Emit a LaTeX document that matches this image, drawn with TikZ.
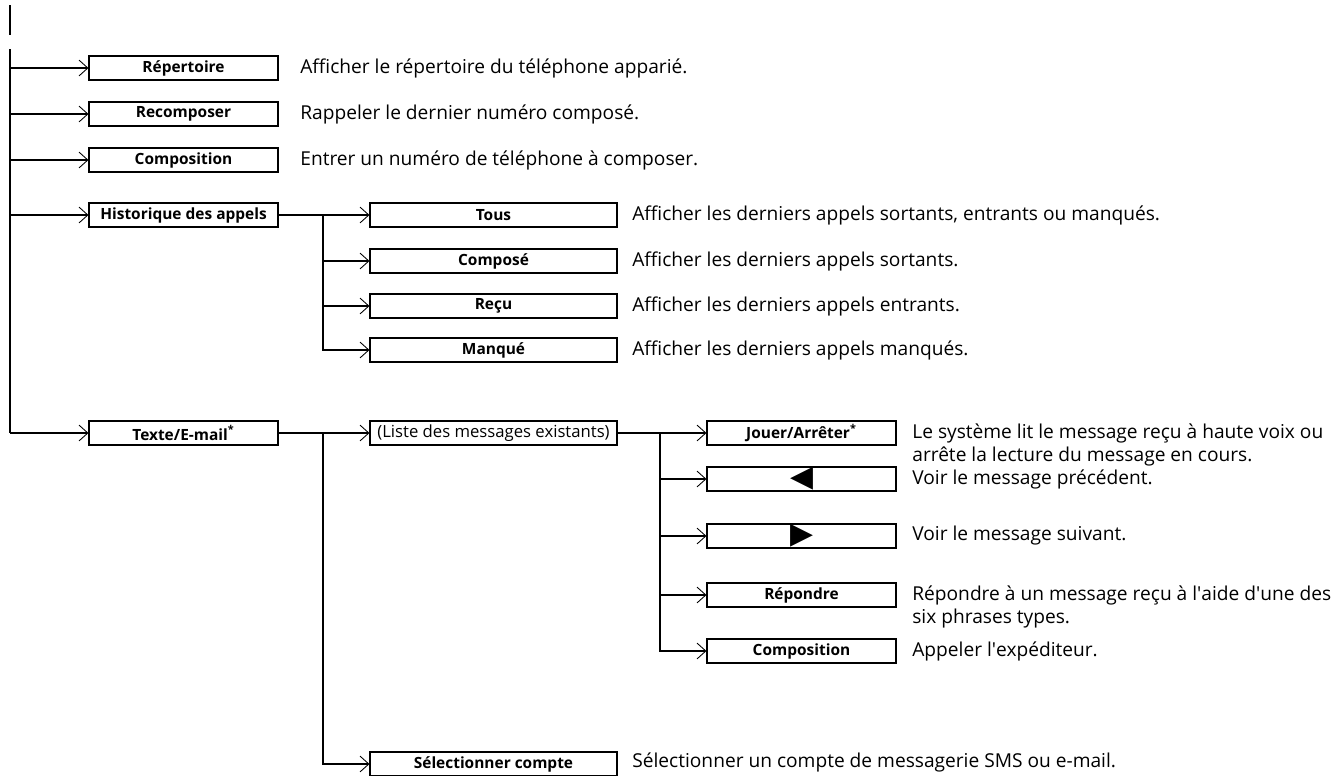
\documentclass[tikz,border=0pt]{standalone}
\usepackage{fontspec}
\setmainfont{Open Sans}
\setsansfont{Open Sans}
\newfontfamily\symfont{DejaVu Sans}
\usetikzlibrary{arrows.meta, positioning}

\begin{document}
\begin{tikzpicture}[
  x=0.02cm, y=-0.02cm,
  menu/.style={draw, line width=0.6pt, minimum width=189*0.02cm, minimum height=0.48cm,
               inner sep=0pt, font=\fontsize{8.8}{10}\selectfont\bfseries},
  menuwide/.style={menu, minimum width=247*0.02cm},
  desc/.style={anchor=west, inner sep=0pt, align=left,
               font=\fontsize{10.9}{13.6}\selectfont},
  line/.style={line width=1.1pt},
  arr/.style={line, -{Straight Barb[length=5pt, width=9pt, line width=0.5pt]}}
]
\useasboundingbox (0,0) rectangle (1342,775);

%
%  Layout (pixels, y down):
%
%  col 1 : boxes 89..278     texts at 300
%  col 2 : boxes 370..617    texts at 632
%  col 3 : boxes 707..896    texts at 912
%

% --- trunk ---
\coordinate (bartop) at (10,5);
\coordinate (barbot) at (10,35);
\coordinate (root)   at (10,49);
\draw[line] (bartop) -- (barbot);

% --- first level ---
\node[menu] (rep)  at (183.5,68)  {Répertoire};
\node[menu] (rec)  at (183.5,114) {Recomposer};
\node[menu] (comp) at (183.5,160) {Composition};
\node[menu] (hist) at (183.5,215) {Historique des appels};
\node[menu] (txt)  at (183.5,433) {Texte/E-mail\textsuperscript{*}};

\node[desc] (rep_d)  at (300,68)  {Afficher le répertoire du téléphone apparié.};
\node[desc] (rec_d)  at (300,114) {Rappeler le dernier numéro composé.};
\node[desc] (comp_d) at (300,160) {Entrer un numéro de téléphone à composer.};

% --- call history ---
\coordinate (hjoin) at (323,215);
\node[menuwide] (tous) at (493.5,215) {Tous};
\node[menuwide] (cmpo) at (493.5,261) {Composé};
\node[menuwide] (recu) at (493.5,306) {Reçu};
\node[menuwide] (manq) at (493.5,350) {Manqué};

\node[desc] (tous_d) at (632,215) {Afficher les derniers appels sortants, entrants ou manqués.};
\node[desc] (cmpo_d) at (632,261) {Afficher les derniers appels sortants.};
\node[desc] (recu_d) at (632,306) {Afficher les derniers appels entrants.};
\node[desc] (manq_d) at (632,350) {Afficher les derniers appels manqués.};

% --- text / e-mail ---
\coordinate (tjoin) at (323,433);
\node[menuwide, font=\fontsize{9.5}{10}\selectfont] (list) at (493.5,433) {(Liste des messages existants)};
\node[menuwide] (sel) at (493.5,764) {Sélectionner compte};
\node[desc] (sel_d) at (632,762) {Sélectionner un compte de messagerie SMS ou e-mail.};

% --- message list ---
\coordinate (ljoin) at (660,433);
\node[menu] (play) at (801.5,433) {Jouer/Arrêter\textsuperscript{*}};
\node[menu] (prev) at (801.5,479) {\symfont\fontsize{17}{17}\selectfont ◀};
\node[menu] (next) at (801.5,536) {\symfont\fontsize{17}{17}\selectfont ▶};
\node[menu] (repl) at (801.5,595) {Répondre};
\node[menu] (call) at (801.5,651) {Composition};

\node[desc] (play_d) at (912,445) {Le système lit le message reçu à haute voix ou\\arrête la lecture du message en cours.};
\node[desc] (prev_d) at (912,479) {Voir le message précédent.};
\node[desc] (next_d) at (912,536) {Voir le message suivant.};
\node[desc] (repl_d) at (912,607) {Répondre à un message reçu à l\textquotesingle aide d\textquotesingle une des\\six phrases types.};
\node[desc] (call_d) at (912,651) {Appeler l\textquotesingle expéditeur.};

% ---- Connections ----

% trunk -> first level
\draw[line] (root) -- (root |- txt);
\draw[arr] (root |- rep)  -- (rep);
\draw[arr] (root |- rec)  -- (rec);
\draw[arr] (root |- comp) -- (comp);
\draw[arr] (root |- hist) -- (hist);
\draw[arr] (root |- txt)  -- (txt);

% history -> sub menus
\draw[arr] (hist) -- (tous);
\draw[arr] (hjoin) |- (cmpo);
\draw[arr] (hjoin) |- (recu);
\draw[arr] (hjoin) |- (manq);

% text/e-mail -> list, account
\draw[arr] (txt) -- (list);
\draw[arr] (tjoin) |- (sel);

% list -> message actions
\draw[arr] (list) -- (play);
\draw[arr] (ljoin) |- (prev);
\draw[arr] (ljoin) |- (next);
\draw[arr] (ljoin) |- (repl);
\draw[arr] (ljoin) |- (call);

\end{tikzpicture}
\end{document}
